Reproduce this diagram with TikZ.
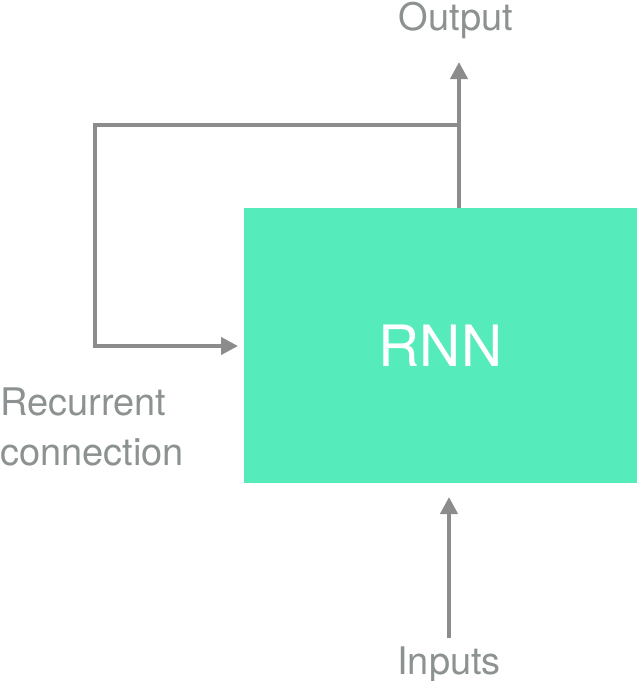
\documentclass[tikz,border=0pt]{standalone}
\usepackage{fontspec}
\setmainfont{TeX Gyre Heros}
\usepackage{tikz}
\usetikzlibrary{arrows.meta,positioning}
\definecolor{rnngreen}{RGB}{85,235,187}
\definecolor{linegray}{RGB}{140,140,140}
\definecolor{textgray}{RGB}{140,146,145}

\begin{document}
\begin{tikzpicture}[x=1pt,y=-1pt,
  box/.style={fill=rnngreen,minimum width=393pt,minimum height=275pt,inner sep=0pt,
    text=white,font=\fontsize{57}{57}\selectfont},
  lbl/.style={text=textgray,font=\fontsize{38}{50}\selectfont,inner sep=0pt},
  arr/.style={draw=linegray,line width=4pt,-{Triangle[length=17pt,width=17pt]}}]
  \useasboundingbox (0,0) rectangle (637,681);
  \node[box] (rnn) at (440.5,345.5) {RNN};
  \node[lbl,anchor=base] (out) at (456,30) {Output};
  \node[lbl,anchor=base] (inp) at (449,674) {Inputs};
  \node[lbl,anchor=base west,align=left] (rec) at (0,465) {Recurrent\\connection};
  % arrow ends and corners
  \coordinate (split) at (459,125);
  \coordinate (outtip) at (459,62);
  \coordinate (corner) at (95,125);
  \coordinate (rectip) at (238,346);
  \coordinate (inptail) at (449,638);
  \coordinate (inptip) at (449,497);
  \draw[arr] (rnn.north -| split) -- (outtip);
  \draw[arr] (split) -- (corner) |- (rectip);
  \draw[arr] (inptail) -- (inptip);
\end{tikzpicture}
\end{document}
